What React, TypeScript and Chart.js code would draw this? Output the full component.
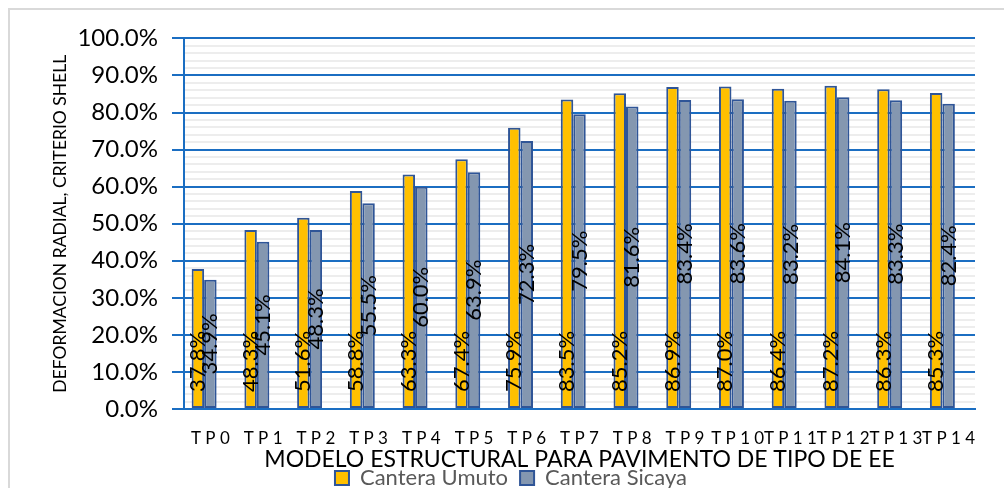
import React, { useEffect, useRef } from 'react';
import { Chart, registerables } from 'chart.js';

Chart.register(...registerables);

const categories = ['TP0', 'TP1', 'TP2', 'TP3', 'TP4', 'TP5', 'TP6', 'TP7', 'TP8', 'TP9', 'TP10', 'TP11', 'TP12', 'TP13', 'TP14'];
const umuto = [37.8, 48.3, 51.6, 58.8, 63.3, 67.4, 75.9, 83.5, 85.2, 86.9, 87.0, 86.4, 87.2, 86.3, 85.3];
const sicaya = [34.9, 45.1, 48.3, 55.5, 60.0, 63.9, 72.3, 79.5, 81.6, 83.4, 83.6, 83.2, 84.1, 83.3, 82.4];
const emptySlot = [null, null, null, null, null, null, null, null, null, null, null, null, null, null, null];
const seriesNames = ['Cantera Umuto', 'Cantera Sicaya'];
const yTitle = 'DEFORMACION RADIAL, CRITERIO SHELL';
const xTitle = 'MODELO ESTRUCTURAL PARA PAVIMENTO DE TIPO DE EE';

const FONT = 'Lato';
const BLUE = '#1B6EC2';
const EDGE = '#2F5597';

const barLabels = {
  id: 'barLabels',
  afterDatasetsDraw(chart: any) {
    const ctx = chart.ctx;
    ctx.save();
    ctx.font = `22px ${FONT}`;
    ctx.fillStyle = '#000';
    ctx.textBaseline = 'middle';
    [0, 1].forEach((di) => {
      const meta = chart.getDatasetMeta(di);
      const data = chart.data.datasets[di].data;
      meta.data.forEach((bar: any, i: number) => {
        const v = data[i];
        if (v == null) return;
        const p = bar.getProps(['x', 'y', 'base'], true);
        const txt = Number(v).toFixed(1) + '%';
        ctx.save();
        if (di === 0) {
          ctx.translate(p.x, p.base - 16);
          ctx.rotate(-Math.PI / 2);
          ctx.textAlign = 'left';
        } else {
          ctx.translate(p.x, (p.y + p.base) / 2);
          ctx.rotate(-Math.PI / 2);
          ctx.textAlign = 'center';
        }
        ctx.fillText(txt, 0, 0);
        ctx.restore();
      });
    });
    ctx.restore();
  },
};

export default function App() {
  const ref = useRef<HTMLCanvasElement | null>(null);

  useEffect(() => {
    if (!ref.current) return;
    const chart = new Chart(ref.current, {
      type: 'bar',
      data: {
        labels: categories,
        datasets: [
          {
            label: seriesNames[0],
            data: umuto,
            backgroundColor: '#FFC000',
            borderColor: EDGE,
            borderWidth: 2,
            borderSkipped: false,
          },
          {
            label: seriesNames[1],
            data: sicaya,
            backgroundColor: '#8497B0',
            borderColor: EDGE,
            borderWidth: 2,
            borderSkipped: false,
          },
          {
            label: '',
            data: emptySlot,
            backgroundColor: 'transparent',
            borderWidth: 0,
          },
        ] as any,
      },
      options: {
        responsive: false,
        animation: false,
        datasets: {
          bar: { categoryPercentage: 0.71, barPercentage: 1 },
        },
        layout: { padding: { top: 23, right: 0, left: 0, bottom: 0 } },
        plugins: {
          tooltip: { enabled: false },
          legend: {
            position: 'bottom',
            labels: {
              boxWidth: 14,
              boxHeight: 14,
              padding: 12,
              color: '#595959',
              font: { family: FONT, size: 22 },
              filter: (item: any) => item.datasetIndex < 2,
            },
          },
        },
        scales: {
          x: {
            grid: { display: false, drawTicks: false },
            border: { display: true, color: BLUE, width: 2 },
            ticks: {
              autoSkip: false,
              maxRotation: 0,
              minRotation: 0,
              padding: 19,
              color: '#000',
              font: { family: FONT, size: 17 },
              callback: function (this: any, v: any) {
                return String(this.getLabelForValue(v)).split('').join(' ');
              },
            },
            title: {
              display: true,
              text: xTitle,
              color: '#000',
              font: { family: FONT, size: 23, lineHeight: 0.5 },
              padding: { top: 0, bottom: -10 },
            },
            afterFit: (s: any) => {
              s.height = 46;
            },
          },
          y: {
            min: 0,
            max: 100,
            position: 'left',
            ticks: {
              stepSize: 10,
              padding: 14,
              color: '#000',
              font: { family: FONT, size: 24 },
              callback: (v: any) => Number(v).toFixed(1) + '%',
            },
            grid: {
              color: BLUE,
              lineWidth: 2,
              drawTicks: true,
              tickLength: 12,
              tickColor: BLUE,
              tickWidth: 2,
            },
            border: { display: true, color: BLUE, width: 2 },
            title: {
              display: true,
              text: yTitle,
              color: '#000',
              font: { family: FONT, size: 17.5 },
              padding: { top: 40, bottom: 0 },
            },
            afterFit: (s: any) => {
              s.width = 174;
            },
          },
          yMinor: {
            min: 0,
            max: 100,
            position: 'left',
            ticks: { display: false, stepSize: 2 },
            grid: {
              drawTicks: false,
              lineWidth: 2,
              color: (c: any) => (Math.round(c.tick.value) % 10 === 0 ? 'rgba(0,0,0,0)' : '#EDEDED'),
            },
            border: { display: false },
            afterFit: (s: any) => {
              s.width = 0;
            },
          },
          ySpace: {
            min: 0,
            max: 100,
            position: 'right',
            ticks: { display: false },
            grid: { display: false, drawTicks: false },
            border: { display: false },
            afterFit: (s: any) => {
              s.width = 37;
            },
          },
        },
      } as any,
      plugins: [barLabels],
    });
    return () => chart.destroy();
  }, []);

  return (
    <div
      style={{
        position: 'fixed',
        top: 8,
        left: 8,
        width: 996,
        height: 480,
        overflow: 'hidden',
        borderTop: '2px solid #D9D9D9',
        borderLeft: '2px solid #D9D9D9',
        boxSizing: 'border-box',
        background: '#fff',
      }}
    >
      <canvas ref={ref} width={1002} height={489} style={{ display: 'block', width: 1002, height: 489 }} />
    </div>
  );
}
